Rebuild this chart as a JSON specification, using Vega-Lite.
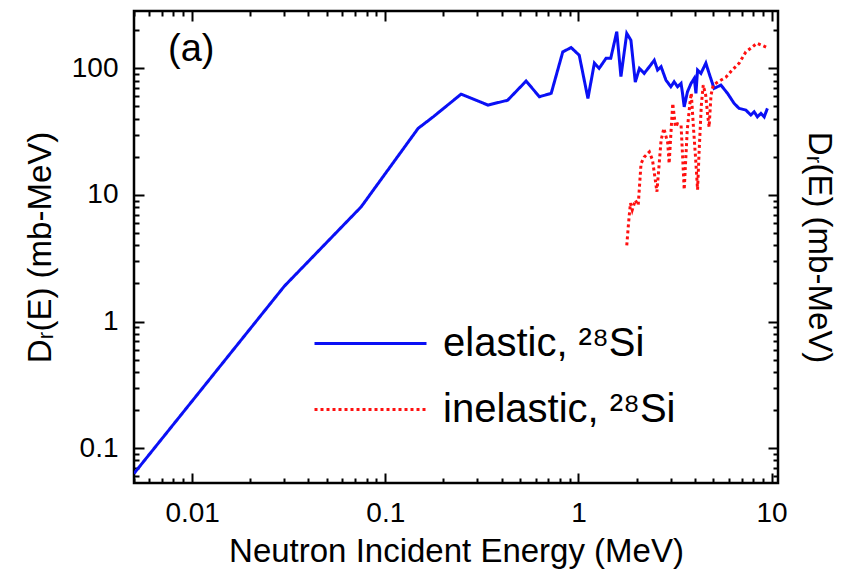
{
  "$schema": "https://vega.github.io/schema/vega-lite/v6.json",
  "width": 644,
  "height": 472,
  "autosize": {"type": "none"},
  "padding": {"left": 134, "top": 11, "right": 63, "bottom": 88},
  "background": "white",
  "config": {
    "font": "Liberation Sans",
    "view": {"stroke": "black", "strokeWidth": 2.5},
    "axis": {
      "domain": false,
      "grid": false,
      "zindex": 1,
      "labelFont": "Liberation Sans",
      "labelFontSize": 28,
      "labelColor": "black",
      "titleFont": "Liberation Sans",
      "titleFontSize": 33,
      "titleFontWeight": "normal",
      "titleColor": "black",
      "tickColor": "black",
      "tickWidth": 2
    }
  },
  "datasets": {
    "elastic": [
      {"energy": 0.005, "dose": 0.063, "reaction": "elastic, ²⁸Si"},
      {"energy": 0.030, "dose": 1.90, "reaction": "elastic, ²⁸Si"},
      {"energy": 0.075, "dose": 8.05, "reaction": "elastic, ²⁸Si"},
      {"energy": 0.148, "dose": 33.6, "reaction": "elastic, ²⁸Si"},
      {"energy": 0.177, "dose": 41.4, "reaction": "elastic, ²⁸Si"},
      {"energy": 0.247, "dose": 62.6, "reaction": "elastic, ²⁸Si"},
      {"energy": 0.34, "dose": 51.3, "reaction": "elastic, ²⁸Si"},
      {"energy": 0.43, "dose": 56.0, "reaction": "elastic, ²⁸Si"},
      {"energy": 0.536, "dose": 79.4, "reaction": "elastic, ²⁸Si"},
      {"energy": 0.628, "dose": 59.7, "reaction": "elastic, ²⁸Si"},
      {"energy": 0.723, "dose": 63.5, "reaction": "elastic, ²⁸Si"},
      {"energy": 0.83, "dose": 135, "reaction": "elastic, ²⁸Si"},
      {"energy": 0.917, "dose": 146, "reaction": "elastic, ²⁸Si"},
      {"energy": 1.01, "dose": 127, "reaction": "elastic, ²⁸Si"},
      {"energy": 1.12, "dose": 57.9, "reaction": "elastic, ²⁸Si"},
      {"energy": 1.21, "dose": 110, "reaction": "elastic, ²⁸Si"},
      {"energy": 1.28, "dose": 100, "reaction": "elastic, ²⁸Si"},
      {"energy": 1.39, "dose": 120, "reaction": "elastic, ²⁸Si"},
      {"energy": 1.47, "dose": 120, "reaction": "elastic, ²⁸Si"},
      {"energy": 1.58, "dose": 195, "reaction": "elastic, ²⁸Si"},
      {"energy": 1.66, "dose": 86, "reaction": "elastic, ²⁸Si"},
      {"energy": 1.78, "dose": 189, "reaction": "elastic, ²⁸Si"},
      {"energy": 1.87, "dose": 167, "reaction": "elastic, ²⁸Si"},
      {"energy": 1.97, "dose": 78, "reaction": "elastic, ²⁸Si"},
      {"energy": 2.07, "dose": 100, "reaction": "elastic, ²⁸Si"},
      {"energy": 2.19, "dose": 91.3, "reaction": "elastic, ²⁸Si"},
      {"energy": 2.33, "dose": 103, "reaction": "elastic, ²⁸Si"},
      {"energy": 2.47, "dose": 116, "reaction": "elastic, ²⁸Si"},
      {"energy": 2.57, "dose": 97, "reaction": "elastic, ²⁸Si"},
      {"energy": 2.68, "dose": 103, "reaction": "elastic, ²⁸Si"},
      {"energy": 2.84, "dose": 80.8, "reaction": "elastic, ²⁸Si"},
      {"energy": 3.01, "dose": 71.6, "reaction": "elastic, ²⁸Si"},
      {"energy": 3.13, "dose": 78.4, "reaction": "elastic, ²⁸Si"},
      {"energy": 3.26, "dose": 71.6, "reaction": "elastic, ²⁸Si"},
      {"energy": 3.40, "dose": 76.1, "reaction": "elastic, ²⁸Si"},
      {"energy": 3.46, "dose": 63.4, "reaction": "elastic, ²⁸Si"},
      {"energy": 3.53, "dose": 49.7, "reaction": "elastic, ²⁸Si"},
      {"energy": 3.67, "dose": 65.3, "reaction": "elastic, ²⁸Si"},
      {"energy": 3.83, "dose": 76.1, "reaction": "elastic, ²⁸Si"},
      {"energy": 3.98, "dose": 83.4, "reaction": "elastic, ²⁸Si"},
      {"energy": 4.06, "dose": 63.4, "reaction": "elastic, ²⁸Si"},
      {"energy": 4.14, "dose": 97, "reaction": "elastic, ²⁸Si"},
      {"energy": 4.31, "dose": 91.3, "reaction": "elastic, ²⁸Si"},
      {"energy": 4.57, "dose": 110, "reaction": "elastic, ²⁸Si"},
      {"energy": 4.75, "dose": 91.3, "reaction": "elastic, ²⁸Si"},
      {"energy": 5.04, "dose": 69.5, "reaction": "elastic, ²⁸Si"},
      {"energy": 5.47, "dose": 73.8, "reaction": "elastic, ²⁸Si"},
      {"energy": 5.92, "dose": 63.4, "reaction": "elastic, ²⁸Si"},
      {"energy": 6.40, "dose": 52.9, "reaction": "elastic, ²⁸Si"},
      {"energy": 6.79, "dose": 48.3, "reaction": "elastic, ²⁸Si"},
      {"energy": 7.36, "dose": 46.8, "reaction": "elastic, ²⁸Si"},
      {"energy": 7.81, "dose": 42.8, "reaction": "elastic, ²⁸Si"},
      {"energy": 8.13, "dose": 45.4, "reaction": "elastic, ²⁸Si"},
      {"energy": 8.45, "dose": 41.4, "reaction": "elastic, ²⁸Si"},
      {"energy": 8.81, "dose": 44.1, "reaction": "elastic, ²⁸Si"},
      {"energy": 9.16, "dose": 41.4, "reaction": "elastic, ²⁸Si"},
      {"energy": 9.52, "dose": 48.3, "reaction": "elastic, ²⁸Si"}
    ],
    "inelastic": [
      {"energy": 1.78, "dose": 4.0, "reaction": "inelastic, ²⁸Si"},
      {"energy": 1.81, "dose": 5.5, "reaction": "inelastic, ²⁸Si"},
      {"energy": 1.83, "dose": 6.7, "reaction": "inelastic, ²⁸Si"},
      {"energy": 1.86, "dose": 8.6, "reaction": "inelastic, ²⁸Si"},
      {"energy": 1.90, "dose": 7.6, "reaction": "inelastic, ²⁸Si"},
      {"energy": 1.97, "dose": 9.1, "reaction": "inelastic, ²⁸Si"},
      {"energy": 2.04, "dose": 8.3, "reaction": "inelastic, ²⁸Si"},
      {"energy": 2.11, "dose": 17.7, "reaction": "inelastic, ²⁸Si"},
      {"energy": 2.19, "dose": 19.9, "reaction": "inelastic, ²⁸Si"},
      {"energy": 2.33, "dose": 21.9, "reaction": "inelastic, ²⁸Si"},
      {"energy": 2.42, "dose": 18.8, "reaction": "inelastic, ²⁸Si"},
      {"energy": 2.55, "dose": 10.6, "reaction": "inelastic, ²⁸Si"},
      {"energy": 2.68, "dose": 27.1, "reaction": "inelastic, ²⁸Si"},
      {"energy": 2.77, "dose": 33.6, "reaction": "inelastic, ²⁸Si"},
      {"energy": 2.90, "dose": 25.8, "reaction": "inelastic, ²⁸Si"},
      {"energy": 2.95, "dose": 17.7, "reaction": "inelastic, ²⁸Si"},
      {"energy": 3.03, "dose": 35.6, "reaction": "inelastic, ²⁸Si"},
      {"energy": 3.08, "dose": 52.9, "reaction": "inelastic, ²⁸Si"},
      {"energy": 3.18, "dose": 34.5, "reaction": "inelastic, ²⁸Si"},
      {"energy": 3.26, "dose": 36.5, "reaction": "inelastic, ²⁸Si"},
      {"energy": 3.40, "dose": 35.6, "reaction": "inelastic, ²⁸Si"},
      {"energy": 3.46, "dose": 20.8, "reaction": "inelastic, ²⁸Si"},
      {"energy": 3.53, "dose": 11.0, "reaction": "inelastic, ²⁸Si"},
      {"energy": 3.66, "dose": 32.5, "reaction": "inelastic, ²⁸Si"},
      {"energy": 3.77, "dose": 51.3, "reaction": "inelastic, ²⁸Si"},
      {"energy": 3.84, "dose": 63.8, "reaction": "inelastic, ²⁸Si"},
      {"energy": 3.95, "dose": 32.5, "reaction": "inelastic, ²⁸Si"},
      {"energy": 4.05, "dose": 18.8, "reaction": "inelastic, ²⁸Si"},
      {"energy": 4.14, "dose": 11.0, "reaction": "inelastic, ²⁸Si"},
      {"energy": 4.22, "dose": 22.6, "reaction": "inelastic, ²⁸Si"},
      {"energy": 4.33, "dose": 51.3, "reaction": "inelastic, ²⁸Si"},
      {"energy": 4.43, "dose": 73.8, "reaction": "inelastic, ²⁸Si"},
      {"energy": 4.56, "dose": 61.5, "reaction": "inelastic, ²⁸Si"},
      {"energy": 4.67, "dose": 42.8, "reaction": "inelastic, ²⁸Si"},
      {"energy": 4.75, "dose": 34.4, "reaction": "inelastic, ²⁸Si"},
      {"energy": 4.86, "dose": 61.5, "reaction": "inelastic, ²⁸Si"},
      {"energy": 4.99, "dose": 73.8, "reaction": "inelastic, ²⁸Si"},
      {"energy": 5.36, "dose": 79.4, "reaction": "inelastic, ²⁸Si"},
      {"energy": 5.81, "dose": 85.3, "reaction": "inelastic, ²⁸Si"},
      {"energy": 6.26, "dose": 97, "reaction": "inelastic, ²⁸Si"},
      {"energy": 6.80, "dose": 110, "reaction": "inelastic, ²⁸Si"},
      {"energy": 7.36, "dose": 135, "reaction": "inelastic, ²⁸Si"},
      {"energy": 7.84, "dose": 145, "reaction": "inelastic, ²⁸Si"},
      {"energy": 8.41, "dose": 158, "reaction": "inelastic, ²⁸Si"},
      {"energy": 8.93, "dose": 152, "reaction": "inelastic, ²⁸Si"},
      {"energy": 9.37, "dose": 147, "reaction": "inelastic, ²⁸Si"}
    ],
    "panel": [
      {"energy": 0.0099, "dose": 140, "tag": "(a)"}
    ]
  },
  "resolve": {"axis": {"x": "independent", "y": "independent"}},
  "layer": [
    {
      "data": {"name": "elastic"},
      "mark": {"type": "line", "strokeWidth": 3, "clip": true},
      "encoding": {
        "x": {
          "field": "energy", "type": "quantitative",
          "scale": {"type": "log", "domain": [0.005, 10.8], "nice": false},
          "axis": {
            "orient": "bottom",
            "title": "Neutron Incident Energy (MeV)",
            "values": [0.005, 0.006, 0.007, 0.008, 0.009, 0.01, 0.02, 0.03, 0.04, 0.05, 0.06, 0.07, 0.08, 0.09, 0.1, 0.2, 0.3, 0.4, 0.5, 0.6, 0.7, 0.8, 0.9, 1, 2, 3, 4, 5, 6, 7, 8, 9, 10],
            "format": "~g",
            "labelExpr": "abs(log(datum.value)/LN10 - round(log(datum.value)/LN10)) < 0.001 ? datum.label : ''",
            "tickSize": {"condition": {"test": "abs(log(datum.value)/LN10 - round(log(datum.value)/LN10)) < 0.001", "value": -10}, "value": -5},
            "labelPadding": 26,
            "titlePadding": 8,
            "labelFlush": false
          }
        },
        "y": {
          "field": "dose", "type": "quantitative",
          "scale": {"type": "log", "domain": [0.053, 284], "nice": false},
          "axis": {
            "orient": "left",
            "title": "Dᵣ(E) (mb-MeV)",
            "values": [0.06, 0.07, 0.08, 0.09, 0.1, 0.2, 0.3, 0.4, 0.5, 0.6, 0.7, 0.8, 0.9, 1, 2, 3, 4, 5, 6, 7, 8, 9, 10, 20, 30, 40, 50, 60, 70, 80, 90, 100, 200],
            "format": "~g",
            "labelExpr": "abs(log(datum.value)/LN10 - round(log(datum.value)/LN10)) < 0.001 ? datum.label : ''",
            "tickSize": {"condition": {"test": "abs(log(datum.value)/LN10 - round(log(datum.value)/LN10)) < 0.001", "value": -10}, "value": -5},
            "labelPadding": 26,
            "titlePadding": 14,
            "labelFlush": false
          }
        },
        "color": {
          "field": "reaction", "type": "nominal",
          "scale": {"domain": ["elastic, ²⁸Si", "inelastic, ²⁸Si"], "range": ["#0a10f5", "#ff1010"]},
          "legend": {
            "title": null,
            "orient": "none",
            "legendX": 207,
            "legendY": 303,
            "symbolType": "M-2,0H2",
            "symbolSize": 3136,
            "symbolStrokeWidth": 3,
            "labelFontSize": 40,
            "labelFont": "Liberation Sans",
            "labelColor": "black",
            "labelOffset": 43,
            "labelLimit": 0,
            "rowPadding": 16,
            "padding": 0
          }
        },
        "strokeDash": {
          "field": "reaction", "type": "nominal",
          "scale": {"domain": ["elastic, ²⁸Si", "inelastic, ²⁸Si"], "range": [[1, 0], [3, 3]]},
          "legend": null
        }
      }
    },
    {
      "data": {"name": "inelastic"},
      "mark": {"type": "line", "strokeWidth": 3, "clip": true},
      "encoding": {
        "x": {
          "field": "energy", "type": "quantitative",
          "axis": {
            "orient": "top",
            "title": null,
            "values": [0.005, 0.006, 0.007, 0.008, 0.009, 0.01, 0.02, 0.03, 0.04, 0.05, 0.06, 0.07, 0.08, 0.09, 0.1, 0.2, 0.3, 0.4, 0.5, 0.6, 0.7, 0.8, 0.9, 1, 2, 3, 4, 5, 6, 7, 8, 9, 10],
            "labels": false,
            "tickSize": {"condition": {"test": "abs(log(datum.value)/LN10 - round(log(datum.value)/LN10)) < 0.001", "value": -10}, "value": -5}
          }
        },
        "y": {
          "field": "dose", "type": "quantitative",
          "axis": {
            "orient": "right",
            "title": "Dᵣ(E) (mb-MeV)",
            "values": [0.06, 0.07, 0.08, 0.09, 0.1, 0.2, 0.3, 0.4, 0.5, 0.6, 0.7, 0.8, 0.9, 1, 2, 3, 4, 5, 6, 7, 8, 9, 10, 20, 30, 40, 50, 60, 70, 80, 90, 100, 200],
            "labels": false,
            "titlePadding": 22,
            "tickSize": {"condition": {"test": "abs(log(datum.value)/LN10 - round(log(datum.value)/LN10)) < 0.001", "value": -10}, "value": -5}
          }
        },
        "color": {"field": "reaction", "type": "nominal"},
        "strokeDash": {"field": "reaction", "type": "nominal"}
      }
    },
    {
      "data": {"name": "panel"},
      "mark": {"type": "text", "fontSize": 38, "font": "Liberation Sans", "align": "center", "baseline": "middle", "color": "black"},
      "encoding": {
        "x": {"field": "energy", "type": "quantitative", "axis": null},
        "y": {"field": "dose", "type": "quantitative", "axis": null},
        "text": {"field": "tag"}
      }
    }
  ]
}
